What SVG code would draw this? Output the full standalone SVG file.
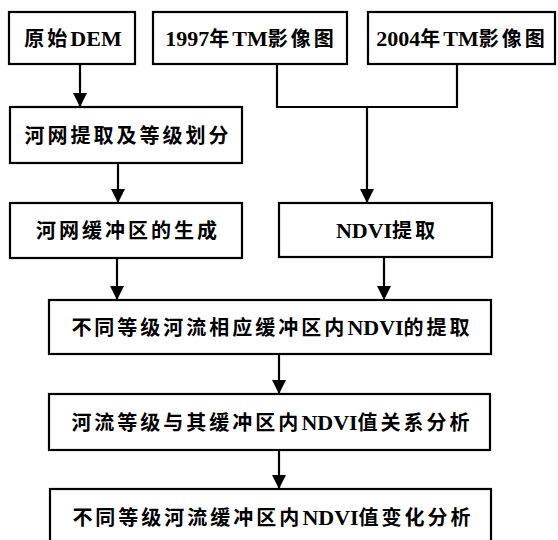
<svg xmlns="http://www.w3.org/2000/svg" width="558" height="540" viewBox="0 0 558 540">
<defs>
<marker id="ah" markerUnits="userSpaceOnUse" markerWidth="14" markerHeight="14" viewBox="0 0 14 14" refX="14" refY="7" orient="auto">
<path d="M0,0 L14,7 L0,14 Z" fill="#000"/>
</marker>
<style>
.box{fill:#fff;stroke:#000;stroke-width:2.2}
.t{font-family:"Liberation Serif","Noto Sans CJK SC",serif;font-weight:bold;font-size:20px;fill:#000;text-anchor:middle}
.z{font-size:20px;letter-spacing:3px}
.l{font-size:22px;letter-spacing:0px}
.c{fill:none;stroke:#000;stroke-width:2.2}
</style>
</defs>
<rect width="558" height="540" fill="#fff"/>
<g id="connectors">
<line class="c" x1="80" y1="64" x2="80" y2="107" marker-end="url(#ah)"/>
<path class="c" d="M277,64 V107 H457 V64"/>
<line class="c" x1="367" y1="107" x2="367" y2="203" marker-end="url(#ah)"/>
<line class="c" x1="118" y1="163" x2="118" y2="203" marker-end="url(#ah)"/>
<line class="c" x1="117" y1="258" x2="117" y2="300" marker-end="url(#ah)"/>
<line class="c" x1="384" y1="257" x2="384" y2="300" marker-end="url(#ah)"/>
<line class="c" x1="279" y1="354" x2="279" y2="394" marker-end="url(#ah)"/>
<line class="c" x1="279" y1="450" x2="279" y2="489" marker-end="url(#ah)"/>
</g>
<g id="n1"><rect class="box" x="9" y="12" width="126" height="52"/><text class="t" x="73" y="46"><tspan class="z">原始</tspan><tspan class="l">DEM</tspan></text></g>
<g id="n2"><rect class="box" x="153" y="12" width="194" height="52"/><text class="t" x="251" y="46"><tspan class="l">1997</tspan><tspan class="z">年</tspan><tspan class="l">TM</tspan><tspan class="z">影像图</tspan></text></g>
<g id="n3"><rect class="box" x="368" y="12" width="187" height="52"/><text class="t" x="462" y="46"><tspan class="l">2004</tspan><tspan class="z">年</tspan><tspan class="l">TM</tspan><tspan class="z">影像图</tspan></text></g>
<g id="n4"><rect class="box" x="10" y="107" width="232" height="56"/><text class="t" x="128" y="143"><tspan class="z">河网提取及等级划分</tspan></text></g>
<g id="n5"><rect class="box" x="10" y="203" width="232" height="55"/><text class="t" x="128" y="238"><tspan class="z">河网缓冲区的生成</tspan></text></g>
<g id="n6"><rect class="box" x="279" y="203" width="213" height="54"/><text class="t" x="387" y="238"><tspan class="l">NDVI</tspan><tspan class="z">提取</tspan></text></g>
<g id="n7"><rect class="box" x="49" y="300" width="442" height="54"/><text class="t" x="272" y="335"><tspan class="z">不同等级河流相应缓冲区内</tspan><tspan class="l">NDVI</tspan><tspan class="z">的提取</tspan></text></g>
<g id="n8"><rect class="box" x="49" y="394" width="441" height="56"/><text class="t" x="272" y="430"><tspan class="z">河流等级与其缓冲区内</tspan><tspan class="l">NDVI</tspan><tspan class="z">值关系分析</tspan></text></g>
<g id="n9"><rect class="box" x="50" y="489" width="441" height="60"/><text class="t" x="273" y="525"><tspan class="z">不同等级河流缓冲区内</tspan><tspan class="l">NDVI</tspan><tspan class="z">值变化分析</tspan></text></g>
</svg>
